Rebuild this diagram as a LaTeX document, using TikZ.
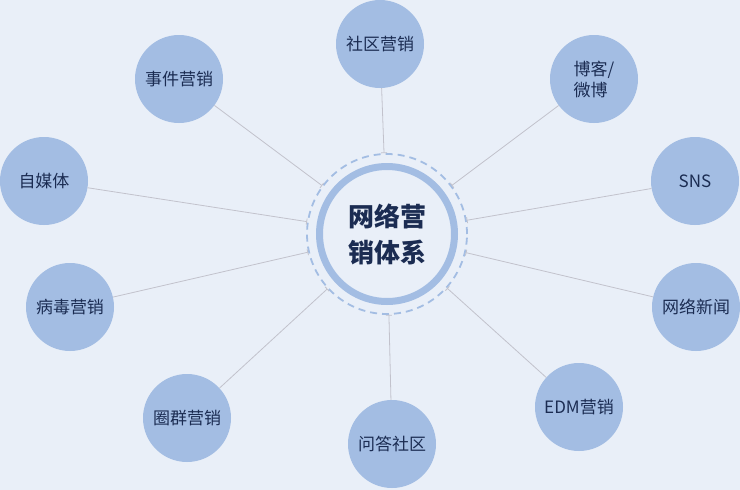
\documentclass[tikz,border=0pt]{standalone}
\usepackage{fontspec}
\setmainfont{Noto Sans CJK SC}
\usepackage{xcolor}
\usepackage{tikz}
\usetikzlibrary{arrows.meta, positioning}
\definecolor{bgcol}{HTML}{E9EFF8}
\definecolor{ballcol}{HTML}{A3BDE3}
\definecolor{ringcol}{HTML}{A3BDE3}
\definecolor{inkcol}{HTML}{1B2C52}
\definecolor{linkcol}{HTML}{C2C2CC}
\tikzstyle{topic} = [circle, minimum size=88pt, inner sep=0pt, fill=ballcol, text=inkcol, font=\fontsize{17}{21}\selectfont, align=left]
\tikzstyle{core} = [circle, minimum size=160pt, inner sep=0pt, draw=ringcol, line width=1.8pt, dash pattern=on 7pt off 5pt, text=inkcol, font=\fontsize{26}{36}\selectfont\bfseries, align=center]
\tikzstyle{link} = [draw=linkcol, line width=0.8pt, -{Bar[width=6pt,line width=0.8pt]}]

\begin{document}
\begin{tikzpicture}[x=1pt, y=-1pt]
\fill [bgcol] (0,0) rectangle (740,490);
\useasboundingbox (0,0) rectangle (740,490);

\node (system) [core] at (387,234) {网络营\\销体系};
\draw [ringcol, line width=7pt] (system.center) circle (67.5pt);

\node (community) [topic] at (380,44) {社区营销};
\node (blog) [topic] at (594,79) {博客/\\微博};
\node (sns) [topic] at (695,181) {SNS};
\node (news) [topic] at (696,307) {网络新闻};
\node (edm) [topic] at (579,407) {EDM营销};
\node (qa) [topic] at (392,444) {问答社区};
\node (circle) [topic] at (187,418) {圈群营销};
\node (viral) [topic] at (70,307) {病毒营销};
\node (media) [topic] at (44,181) {自媒体};
\node (event) [topic] at (179,79) {事件营销};

\draw [link] (community) -- (system);
\draw [link] (blog) -- (system);
\draw [link] (sns) -- (system);
\draw [link] (news) -- (system);
\draw [link] (edm) -- (system);
\draw [link] (qa) -- (system);
\draw [link] (circle) -- (system);
\draw [link] (viral) -- (system);
\draw [link] (media) -- (system);
\draw [link] (event) -- (system);
\end{tikzpicture}
\end{document}
